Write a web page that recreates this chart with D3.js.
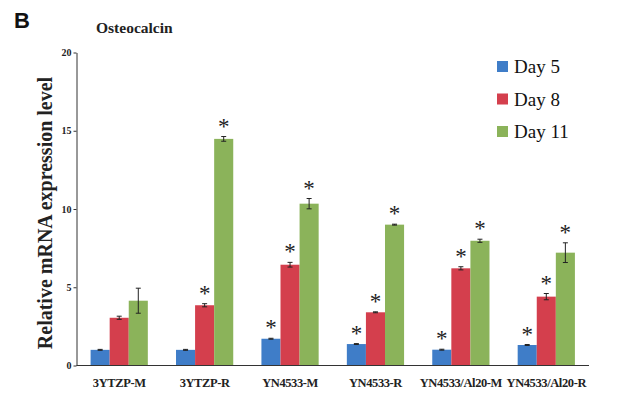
<!DOCTYPE html>
<html>
<head>
<meta charset="utf-8">
<script src="https://cdn.jsdelivr.net/npm/d3@7"></script>
<style>
  body { margin: 0; background: #fff; }
  svg { display: block; }
</style>
</head>
<body>
<div id="chart"></div>
<script>
// groups and series
const groups = ["3YTZP-M", "3YTZP-R", "YN4533-M", "YN4533-R", "YN4533/Al20-M", "YN4533/Al20-R"];
const seriesNames = ["Day 5", "Day 8", "Day 11"];
const day5 = [1.0, 1.0, 1.71, 1.37, 1.01, 1.31];
const day8 = [3.05, 3.85, 6.44, 3.4, 6.21, 4.4];
const day11 = [4.14, 14.48, 10.34, 9.0, 7.97, 7.21];
const day5Err = [0.03, 0.03, 0.03, 0.03, 0.03, 0.03];
const day8Err = [0.1, 0.1, 0.15, 0.03, 0.1, 0.2];
const day11Err = [0.8, 0.15, 0.33, 0.03, 0.1, 0.63];
// significance marks (1 = star)
const day5Star = [0, 0, 1, 1, 1, 1];
const day8Star = [0, 1, 1, 1, 1, 1];
const day11Star = [0, 1, 1, 1, 1, 1];
const yTicks = [0, 5, 10, 15, 20];

const colors = ["#3f7dc8", "#d43f4d", "#8bb35a"];
const values = [day5, day8, day11];
const errs = [day5Err, day8Err, day11Err];
const stars = [day5Star, day8Star, day11Star];

const width = 618, height = 397;
const margin = {top: 52.5, right: 29, bottom: 31.5, left: 76.5};
const serif = "'Liberation Serif', 'Times New Roman', serif";

const svg = d3.select("#chart").append("svg")
    .attr("width", width)
    .attr("height", height);

const x = d3.scaleBand()
    .domain(groups)
    .range([margin.left, width - margin.right])
    .paddingInner(0.33)
    .paddingOuter(0.165);

const xs = d3.scaleBand()
    .domain(seriesNames)
    .range([0, x.bandwidth()]);

const y = d3.scaleLinear()
    .domain([0, 20])
    .range([height - margin.bottom, margin.top]);

// bars
const data = [];
groups.forEach((g, gi) => {
  seriesNames.forEach((s, si) => {
    data.push({group: g, series: s, si: si,
      value: values[si][gi], err: errs[si][gi], star: stars[si][gi]});
  });
});

svg.append("g").selectAll("rect")
    .data(data)
    .enter().append("rect")
    .attr("x", d => x(d.group) + xs(d.series))
    .attr("y", d => y(d.value))
    .attr("width", xs.bandwidth())
    .attr("height", d => y(0) - y(d.value))
    .attr("fill", d => colors[d.si]);

// error bars
const eb = svg.append("g").attr("stroke", "#222").attr("stroke-width", 1);
data.forEach(d => {
  const cx = x(d.group) + xs(d.series) + xs.bandwidth() / 2;
  eb.append("line").attr("x1", cx).attr("x2", cx)
    .attr("y1", y(d.value + d.err)).attr("y2", y(d.value - d.err));
  [d.value + d.err, d.value - d.err].forEach(v => {
    eb.append("line").attr("x1", cx - 2.5).attr("x2", cx + 2.5)
      .attr("y1", y(v)).attr("y2", y(v));
  });
});

// stars
svg.append("g").selectAll("text")
    .data(data.filter(d => d.star))
    .enter().append("text")
    .attr("x", d => x(d.group) + xs(d.series) + xs.bandwidth() / 2)
    .attr("y", d => y(d.value + d.err) - 3)
    .attr("text-anchor", "middle")
    .style("font-family", serif)
    .style("font-size", "23px")
    .attr("fill", "#222")
    .text("*");

// y axis
const yAxis = svg.append("g")
    .attr("transform", `translate(${margin.left},0)`)
    .call(d3.axisLeft(y).tickValues(yTicks).tickSize(3).tickSizeOuter(0));
yAxis.select(".domain").attr("stroke", "#333");
yAxis.selectAll(".tick line").attr("stroke", "#333");
yAxis.selectAll("text")
    .style("font-family", serif)
    .style("font-weight", "bold")
    .style("font-size", "10px")
    .attr("x", -5)
    .attr("fill", "#222");

// x axis line
svg.append("line")
    .attr("x1", margin.left).attr("x2", width - margin.right)
    .attr("y1", y(0)).attr("y2", y(0))
    .attr("stroke", "#333");

// x labels
svg.append("g").selectAll("text")
    .data(groups)
    .enter().append("text")
    .attr("x", d => x(d) + x.bandwidth() / 2)
    .attr("y", 387)
    .attr("text-anchor", "middle")
    .style("font-family", serif)
    .style("font-weight", "bold")
    .style("font-size", "12.5px")
    .style("letter-spacing", "-0.4px")
    .attr("fill", "#222")
    .text(d => d);

// y label
svg.append("text")
    .attr("transform", `translate(52,${(margin.top + y(0)) / 2 + 4}) rotate(-90)`)
    .attr("text-anchor", "middle")
    .style("font-family", serif)
    .style("font-weight", "bold")
    .style("font-size", "20px")
    .attr("fill", "#222")
    .text("Relative mRNA expression level");

// title and panel letter
svg.append("text")
    .attr("x", 96).attr("y", 33)
    .style("font-family", serif)
    .style("font-weight", "bold")
    .style("font-size", "15.5px")
    .attr("fill", "#222")
    .text("Osteocalcin");

svg.append("text")
    .attr("x", 14).attr("y", 28)
    .style("font-family", "'Liberation Sans', Arial, sans-serif")
    .style("font-weight", "bold")
    .style("font-size", "22px")
    .attr("fill", "#111")
    .text("B");

// legend
const legend = svg.append("g").selectAll("g")
    .data(seriesNames)
    .enter().append("g")
    .attr("transform", (d, i) => `translate(497,${61 + i * 32.5})`);

legend.append("rect")
    .attr("width", 11).attr("height", 11)
    .attr("fill", (d, i) => colors[i]);

legend.append("text")
    .attr("x", 17).attr("y", 12)
    .style("font-family", serif)
    .style("font-size", "19px")
    .attr("fill", "#111")
    .text(d => d);
</script>
</body>
</html>
